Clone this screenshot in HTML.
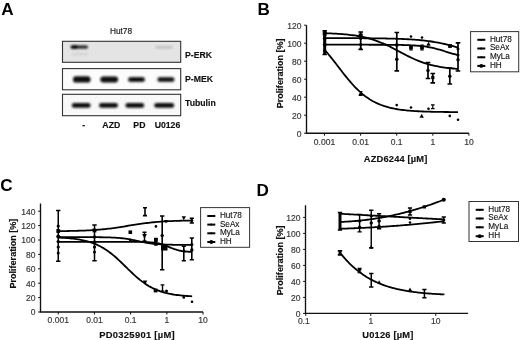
<!DOCTYPE html><html><head><meta charset="utf-8"><style>html,body{margin:0;padding:0;background:#fff;width:520px;height:340px;overflow:hidden}svg{display:block;will-change:transform}</style></head><body>
<svg width="520" height="340" viewBox="0 0 520 340" font-family='"Liberation Sans", sans-serif'>
<defs><filter id="bl" filterUnits="userSpaceOnUse" x="0" y="0" width="520" height="340"><feGaussianBlur stdDeviation="0.8"/></filter><filter id="bl2" filterUnits="userSpaceOnUse" x="0" y="0" width="520" height="340"><feGaussianBlur stdDeviation="1.2"/></filter><filter id="bl3" filterUnits="userSpaceOnUse" x="0" y="0" width="520" height="340"><feGaussianBlur stdDeviation="0.35"/></filter></defs>
<g font-weight="bold" font-size="17.1" fill="#000"><text x="1.2" y="14.9">A</text><text x="257.6" y="14.7">B</text><text x="0.3" y="191.4">C</text><text x="256.6" y="195.6">D</text></g>
<text x="121" y="33.7" font-size="8.3" fill="#222" stroke="#222" stroke-width="0.2" text-anchor="middle">Hut78</text>
<rect x="62.5" y="41.3" width="118.2" height="21" fill="#e4e4e4" stroke="#333" stroke-width="1.1"/>
<g filter="url(#bl)"><rect x="70.5" y="45.6" width="17.5" height="3" rx="1.5" fill="#1a1a1a"/><rect x="71" y="45.2" width="7" height="3.6" rx="1.8" fill="#000"/><rect x="72" y="53.2" width="16" height="1.8" fill="#cfcfcf"/><rect x="155.5" y="46" width="17" height="2.6" rx="1.3" fill="#bdbdbd"/></g>
<rect x="62.5" y="68.6" width="118.2" height="21.2" fill="#fcfcfc" stroke="#333" stroke-width="1.1"/>
<g filter="url(#bl)" fill="#0a0a0a"><rect x="73" y="76.2" width="17.5" height="6.4" rx="3.2"/><rect x="100.3" y="76.4" width="17.8" height="6" rx="3"/><rect x="128" y="77" width="17" height="5" rx="2.5" fill="#2a2a2a"/><rect x="129.5" y="77.8" width="14" height="3.4" rx="1.7" fill="#111"/><rect x="157.3" y="77" width="17.2" height="5" rx="2.5" fill="#333"/><rect x="159" y="77.8" width="14" height="3.4" rx="1.7" fill="#181818"/></g>
<rect x="62.5" y="94.3" width="118.2" height="21.4" fill="#f8f8f8" stroke="#333" stroke-width="1.1"/>
<g filter="url(#bl)" fill="#111"><rect x="71.8" y="103" width="18.8" height="4.8" rx="2.4"/><rect x="99" y="103" width="19" height="4.8" rx="2.4"/><rect x="125.4" y="103" width="18.8" height="4.8" rx="2.4"/><rect x="154.2" y="103" width="20" height="4.8" rx="2.4"/></g>
<g font-weight="bold" font-size="8.7" fill="#111" stroke="#111" stroke-width="0.15"><text x="185" y="58">P-ERK</text><text x="185" y="81.9">P-MEK</text><text x="185" y="105.7">Tubulin</text><text x="83.7" y="127.6" text-anchor="middle">-</text><text x="111.3" y="127.6" text-anchor="middle">AZD</text><text x="139.4" y="127.6" text-anchor="middle">PD</text><text x="167.5" y="127.6" text-anchor="middle">U0126</text></g>
<path d="M306.5,25.3 V133.2 H468.9" fill="none" stroke="#111" stroke-width="1.35"/>
<path d="M304.1,133.20 H306.5" stroke="#111" stroke-width="1"/>
<path d="M304.1,115.20 H306.5" stroke="#111" stroke-width="1"/>
<path d="M304.1,97.20 H306.5" stroke="#111" stroke-width="1"/>
<path d="M304.1,79.20 H306.5" stroke="#111" stroke-width="1"/>
<path d="M304.1,61.20 H306.5" stroke="#111" stroke-width="1"/>
<path d="M304.1,43.20 H306.5" stroke="#111" stroke-width="1"/>
<path d="M304.1,25.20 H306.5" stroke="#111" stroke-width="1"/>
<path d="M324.50,133.2 V135.7" stroke="#111" stroke-width="1"/>
<path d="M360.60,133.2 V135.7" stroke="#111" stroke-width="1"/>
<path d="M396.70,133.2 V135.7" stroke="#111" stroke-width="1"/>
<path d="M432.80,133.2 V135.7" stroke="#111" stroke-width="1"/>
<path d="M468.90,133.2 V135.7" stroke="#111" stroke-width="1"/>
<g font-size="8.5" fill="#383838" stroke="#383838" stroke-width="0.18"><text x="301.50" y="136.55" text-anchor="end">0</text>
<text x="301.50" y="118.55" text-anchor="end">20</text>
<text x="301.50" y="100.55" text-anchor="end">40</text>
<text x="301.50" y="82.55" text-anchor="end">60</text>
<text x="301.50" y="64.55" text-anchor="end">80</text>
<text x="301.50" y="46.55" text-anchor="end">100</text>
<text x="301.50" y="28.55" text-anchor="end">120</text><text x="324.50" y="144.50" text-anchor="middle">0.001</text>
<text x="360.60" y="144.50" text-anchor="middle">0.01</text>
<text x="396.70" y="144.50" text-anchor="middle">0.1</text>
<text x="432.80" y="144.50" text-anchor="middle">1</text>
<text x="468.90" y="144.50" text-anchor="middle">10</text></g>
<text x="395.7" y="161.6" font-size="9.3" letter-spacing="0.17" font-weight="bold" text-anchor="middle" fill="#111" stroke="#111" stroke-width="0.15">AZD6244 [µM]</text>
<text transform="translate(282.9,73.3) rotate(-90)" font-size="9.05" font-weight="bold" text-anchor="middle" fill="#111" stroke="#111" stroke-width="0.15">Proliferation [%]</text>
<g fill="none" stroke="#000" stroke-width="1.8">
<path d="M324.50,49.65 L326.17,51.56 L327.84,53.54 L329.51,55.57 L331.18,57.64 L332.85,59.75 L334.51,61.90 L336.18,64.06 L337.85,66.23 L339.52,68.41 L341.19,70.57 L342.86,72.72 L344.53,74.84 L346.20,76.92 L347.87,78.96 L349.54,80.95 L351.21,82.87 L352.88,84.73 L354.54,86.53 L356.21,88.25 L357.88,89.89 L359.55,91.45 L361.22,92.94 L362.89,94.35 L364.56,95.67 L366.23,96.92 L367.90,98.09 L369.57,99.19 L371.24,100.22 L372.91,101.17 L374.57,102.06 L376.24,102.89 L377.91,103.65 L379.58,104.36 L381.25,105.02 L382.92,105.62 L384.59,106.18 L386.26,106.69 L387.93,107.16 L389.60,107.60 L391.27,108.00 L392.94,108.36 L394.60,108.70 L396.27,109.00 L397.94,109.28 L399.61,109.54 L401.28,109.77 L402.95,109.99 L404.62,110.18 L406.29,110.36 L407.96,110.53 L409.63,110.68 L411.30,110.81 L412.97,110.94 L414.63,111.05 L416.30,111.15 L417.97,111.25 L419.64,111.33 L421.31,111.41 L422.98,111.48 L424.65,111.54 L426.32,111.60 L427.99,111.66 L429.66,111.71 L431.33,111.75 L433.00,111.79 L434.66,111.83 L436.33,111.86 L438.00,111.89 L439.67,111.92 L441.34,111.94 L443.01,111.97 L444.68,111.99 L446.35,112.01 L448.02,112.02 L449.69,112.04 L451.36,112.05 L453.03,112.07 L454.69,112.08 L456.36,112.09 L458.03,112.10"/>
<path d="M324.50,33.22 L326.17,33.27 L327.84,33.33 L329.51,33.39 L331.18,33.46 L332.85,33.54 L334.51,33.62 L336.18,33.71 L337.85,33.81 L339.52,33.92 L341.19,34.04 L342.86,34.17 L344.53,34.31 L346.20,34.47 L347.87,34.64 L349.54,34.82 L351.21,35.02 L352.88,35.24 L354.54,35.47 L356.21,35.73 L357.88,36.01 L359.55,36.30 L361.22,36.63 L362.89,36.97 L364.56,37.35 L366.23,37.75 L367.90,38.18 L369.57,38.64 L371.24,39.13 L372.91,39.65 L374.57,40.20 L376.24,40.78 L377.91,41.40 L379.58,42.05 L381.25,42.73 L382.92,43.44 L384.59,44.18 L386.26,44.95 L387.93,45.74 L389.60,46.56 L391.27,47.40 L392.94,48.25 L394.60,49.12 L396.27,49.99 L397.94,50.88 L399.61,51.76 L401.28,52.65 L402.95,53.53 L404.62,54.40 L406.29,55.26 L407.96,56.10 L409.63,56.92 L411.30,57.72 L412.97,58.50 L414.63,59.24 L416.30,59.96 L417.97,60.65 L419.64,61.31 L421.31,61.93 L422.98,62.53 L424.65,63.09 L426.32,63.62 L427.99,64.12 L429.66,64.58 L431.33,65.02 L433.00,65.43 L434.66,65.81 L436.33,66.16 L438.00,66.49 L439.67,66.80 L441.34,67.08 L443.01,67.34 L444.68,67.58 L446.35,67.80 L448.02,68.01 L449.69,68.19 L451.36,68.37 L453.03,68.52 L454.69,68.67 L456.36,68.80 L458.03,68.93"/>
<path d="M324.50,38.11 L326.17,38.11 L327.84,38.11 L329.51,38.11 L331.18,38.12 L332.85,38.12 L334.51,38.12 L336.18,38.12 L337.85,38.13 L339.52,38.13 L341.19,38.13 L342.86,38.14 L344.53,38.14 L346.20,38.15 L347.87,38.15 L349.54,38.16 L351.21,38.16 L352.88,38.17 L354.54,38.18 L356.21,38.18 L357.88,38.19 L359.55,38.20 L361.22,38.21 L362.89,38.22 L364.56,38.23 L366.23,38.24 L367.90,38.26 L369.57,38.27 L371.24,38.29 L372.91,38.30 L374.57,38.32 L376.24,38.34 L377.91,38.36 L379.58,38.39 L381.25,38.41 L382.92,38.44 L384.59,38.47 L386.26,38.50 L387.93,38.54 L389.60,38.57 L391.27,38.62 L392.94,38.66 L394.60,38.71 L396.27,38.76 L397.94,38.82 L399.61,38.88 L401.28,38.94 L402.95,39.01 L404.62,39.09 L406.29,39.17 L407.96,39.26 L409.63,39.36 L411.30,39.46 L412.97,39.58 L414.63,39.70 L416.30,39.83 L417.97,39.96 L419.64,40.11 L421.31,40.27 L422.98,40.45 L424.65,40.63 L426.32,40.83 L427.99,41.04 L429.66,41.26 L431.33,41.50 L433.00,41.75 L434.66,42.02 L436.33,42.31 L438.00,42.61 L439.67,42.93 L441.34,43.27 L443.01,43.63 L444.68,44.00 L446.35,44.39 L448.02,44.80 L449.69,45.22 L451.36,45.67 L453.03,46.13 L454.69,46.60 L456.36,47.09 L458.03,47.59"/>
<path d="M324.50,44.71 L326.17,44.71 L327.84,44.71 L329.51,44.71 L331.18,44.71 L332.85,44.71 L334.51,44.71 L336.18,44.71 L337.85,44.71 L339.52,44.71 L341.19,44.71 L342.86,44.71 L344.53,44.71 L346.20,44.71 L347.87,44.71 L349.54,44.71 L351.21,44.71 L352.88,44.71 L354.54,44.72 L356.21,44.72 L357.88,44.72 L359.55,44.72 L361.22,44.72 L362.89,44.72 L364.56,44.72 L366.23,44.72 L367.90,44.72 L369.57,44.73 L371.24,44.73 L372.91,44.73 L374.57,44.73 L376.24,44.74 L377.91,44.74 L379.58,44.75 L381.25,44.75 L382.92,44.76 L384.59,44.76 L386.26,44.77 L387.93,44.78 L389.60,44.79 L391.27,44.81 L392.94,44.82 L394.60,44.84 L396.27,44.86 L397.94,44.89 L399.61,44.92 L401.28,44.95 L402.95,44.99 L404.62,45.03 L406.29,45.08 L407.96,45.14 L409.63,45.21 L411.30,45.29 L412.97,45.37 L414.63,45.48 L416.30,45.60 L417.97,45.73 L419.64,45.88 L421.31,46.05 L422.98,46.25 L424.65,46.47 L426.32,46.72 L427.99,46.99 L429.66,47.29 L431.33,47.63 L433.00,47.99 L434.66,48.39 L436.33,48.81 L438.00,49.26 L439.67,49.73 L441.34,50.22 L443.01,50.73 L444.68,51.25 L446.35,51.77 L448.02,52.29 L449.69,52.80 L451.36,53.30 L453.03,53.77 L454.69,54.23 L456.36,54.66 L458.03,55.06"/>
</g>
<path d="M324.70,30.80 V54.50 M322.50,30.80 H326.90 M322.50,54.50 H326.90" stroke="#000" stroke-width="1.6" fill="none"/>
<rect x="323.2" y="31" width="3" height="23" fill="#000"/>
<rect x="322.70" y="31.50" width="4.00" height="4.00" fill="#000"/>
<circle cx="324.70" cy="38.50" r="1.90" fill="#000"/>
<circle cx="324.70" cy="44.50" r="1.90" fill="#000"/>
<path d="M324.70,48.08 L326.62,51.60 L322.78,51.60Z" fill="#000"/>
<path d="M360.70,32.00 V49.50 M358.40,32.00 H363.00 M358.40,49.50 H363.00" stroke="#000" stroke-width="1.7" fill="none"/>
<rect x="358.70" y="33.50" width="4.00" height="4.00" fill="#000"/>
<circle cx="360.70" cy="38.50" r="1.60" fill="#000"/>
<circle cx="360.70" cy="44.50" r="1.60" fill="#000"/>
<path d="M360.70,46.08 L362.62,49.60 L358.78,49.60Z" fill="#000"/>
<path d="M360.70,91.10 L363.10,95.50 L358.30,95.50Z" fill="#000"/>
<path d="M360.70,91.50 V95.50 M358.95,91.50 H362.45 M358.95,95.50 H362.45" stroke="#000" stroke-width="1.2" fill="none"/>
<path d="M396.80,32.50 V70.80 M394.50,32.50 H399.10 M394.50,70.80 H399.10" stroke="#000" stroke-width="1.7" fill="none"/>
<circle cx="396.80" cy="59.20" r="1.80" fill="#000"/>
<rect x="395.30" y="43.50" width="3.00" height="3.00" fill="#000"/>
<circle cx="396.70" cy="105.10" r="1.3" fill="#000"/>
<rect x="409.10" y="45.60" width="3.80" height="3.80" fill="#000"/>
<path d="M411.00,45.50 V50.00 M409.30,45.50 H412.70 M409.30,50.00 H412.70" stroke="#000" stroke-width="1.2" fill="none"/>
<circle cx="411.00" cy="36.50" r="1.3" fill="#000"/>
<circle cx="411.00" cy="107.50" r="1.3" fill="#000"/>
<rect x="420.10" y="45.60" width="3.80" height="3.80" fill="#000"/>
<path d="M422.00,45.00 V50.00 M420.30,45.00 H423.70 M420.30,50.00 H423.70" stroke="#000" stroke-width="1.2" fill="none"/>
<circle cx="422.00" cy="37.50" r="1.3" fill="#000"/>
<path d="M421.70,113.84 L423.86,117.80 L419.54,117.80Z" fill="#000"/>
<path d="M428.00,62.50 V78.50 M425.70,62.50 H430.30 M425.70,78.50 H430.30" stroke="#000" stroke-width="1.7" fill="none"/>
<circle cx="428.00" cy="70.50" r="1.70" fill="#000"/>
<path d="M428.50,41.84 L430.66,45.80 L426.34,45.80Z" fill="#000"/>
<circle cx="428.50" cy="108.70" r="1.3" fill="#000"/>
<path d="M432.80,73.50 V82.80 M430.50,73.50 H435.10 M430.50,82.80 H435.10" stroke="#000" stroke-width="1.7" fill="none"/>
<rect x="431.20" y="75.90" width="3.20" height="3.20" fill="#000"/>
<path d="M432.80,104.80 V108.70 M431.00,104.80 H434.60 M431.00,108.70 H434.60" stroke="#000" stroke-width="1.2" fill="none"/>
<path d="M449.80,68.00 V84.00 M447.50,68.00 H452.10 M447.50,84.00 H452.10" stroke="#000" stroke-width="1.7" fill="none"/>
<circle cx="449.80" cy="76.20" r="1.70" fill="#000"/>
<rect x="448.10" y="44.10" width="3.80" height="3.80" fill="#000"/>
<circle cx="449.80" cy="115.90" r="1.3" fill="#000"/>
<path d="M458.00,42.80 V71.00 M455.70,42.80 H460.30 M455.70,71.00 H460.30" stroke="#000" stroke-width="1.7" fill="none"/>
<circle cx="458.00" cy="49.00" r="1.50" fill="#000"/>
<circle cx="458.00" cy="55.00" r="1.50" fill="#000"/>
<circle cx="458.00" cy="59.80" r="1.70" fill="#000"/>
<circle cx="458.00" cy="119.80" r="1.3" fill="#000"/>
<rect x="470.6" y="31.6" width="48.1" height="40.2" fill="none" stroke="#333" stroke-width="1"/>
<path d="M477.3,39.8 H485.3" stroke="#000" stroke-width="2"/>
<path d="M481.30,38.72 L482.38,40.70 L480.22,40.70Z" fill="#000"/>
<text x="489.90000000000003" y="41.699999999999996" font-size="8.2" fill="#111" stroke="#111" stroke-width="0.12">Hut78</text>
<path d="M477.3,48.5 H485.3" stroke="#000" stroke-width="2"/>
<rect x="480.40" y="47.60" width="1.80" height="1.80" fill="#000"/>
<text x="489.90000000000003" y="50.4" font-size="8.2" fill="#111" stroke="#111" stroke-width="0.12">SeAx</text>
<path d="M477.3,57.3 H485.3" stroke="#000" stroke-width="2"/>
<path d="M481.30,58.38 L482.38,56.40 L480.22,56.40Z" fill="#000"/>
<text x="489.90000000000003" y="59.199999999999996" font-size="8.2" fill="#111" stroke="#111" stroke-width="0.12">MyLa</text>
<path d="M477.3,65.9 H485.3" stroke="#000" stroke-width="2"/>
<circle cx="481.30" cy="65.90" r="1.90" fill="#000"/>
<text x="489.90000000000003" y="67.80000000000001" font-size="8.2" fill="#111" stroke="#111" stroke-width="0.12">HH</text>
<path d="M40.5,203.5 V312 H203.05" fill="none" stroke="#111" stroke-width="1.35"/>
<path d="M38.1,312.00 H40.5" stroke="#111" stroke-width="1"/>
<path d="M38.1,297.60 H40.5" stroke="#111" stroke-width="1"/>
<path d="M38.1,283.20 H40.5" stroke="#111" stroke-width="1"/>
<path d="M38.1,268.80 H40.5" stroke="#111" stroke-width="1"/>
<path d="M38.1,254.40 H40.5" stroke="#111" stroke-width="1"/>
<path d="M38.1,240.00 H40.5" stroke="#111" stroke-width="1"/>
<path d="M38.1,225.60 H40.5" stroke="#111" stroke-width="1"/>
<path d="M38.1,211.20 H40.5" stroke="#111" stroke-width="1"/>
<path d="M58.25,312 V314.5" stroke="#111" stroke-width="1"/>
<path d="M94.45,312 V314.5" stroke="#111" stroke-width="1"/>
<path d="M130.65,312 V314.5" stroke="#111" stroke-width="1"/>
<path d="M166.85,312 V314.5" stroke="#111" stroke-width="1"/>
<path d="M203.05,312 V314.5" stroke="#111" stroke-width="1"/>
<g font-size="8.5" fill="#383838" stroke="#383838" stroke-width="0.18"><text x="35.50" y="315.35" text-anchor="end">0</text>
<text x="35.50" y="300.95" text-anchor="end">20</text>
<text x="35.50" y="286.55" text-anchor="end">40</text>
<text x="35.50" y="272.15" text-anchor="end">60</text>
<text x="35.50" y="257.75" text-anchor="end">80</text>
<text x="35.50" y="243.35" text-anchor="end">100</text>
<text x="35.50" y="228.95" text-anchor="end">120</text>
<text x="35.50" y="214.55" text-anchor="end">140</text><text x="58.25" y="322.80" text-anchor="middle">0.001</text>
<text x="94.45" y="322.80" text-anchor="middle">0.01</text>
<text x="130.65" y="322.80" text-anchor="middle">0.1</text>
<text x="166.85" y="322.80" text-anchor="middle">1</text>
<text x="203.05" y="322.80" text-anchor="middle">10</text></g>
<text x="137.1" y="338" font-size="9.4" letter-spacing="0.3" font-weight="bold" text-anchor="middle" fill="#111" stroke="#111" stroke-width="0.15">PD0325901 [µM]</text>
<text transform="translate(15.7,253.6) rotate(-90)" font-size="9.05" font-weight="bold" text-anchor="middle" fill="#111" stroke="#111" stroke-width="0.15">Proliferation [%]</text>
<g fill="none" stroke="#000" stroke-width="1.8">
<path d="M58.25,237.57 L59.92,237.65 L61.60,237.74 L63.27,237.84 L64.95,237.95 L66.62,238.08 L68.29,238.22 L69.97,238.37 L71.64,238.54 L73.31,238.73 L74.99,238.94 L76.66,239.18 L78.34,239.43 L80.01,239.72 L81.68,240.03 L83.36,240.38 L85.03,240.76 L86.70,241.18 L88.38,241.64 L90.05,242.14 L91.73,242.69 L93.40,243.29 L95.07,243.95 L96.75,244.66 L98.42,245.44 L100.09,246.27 L101.77,247.17 L103.44,248.14 L105.12,249.18 L106.79,250.28 L108.46,251.45 L110.14,252.69 L111.81,254.00 L113.48,255.37 L115.16,256.80 L116.83,258.28 L118.51,259.81 L120.18,261.38 L121.85,262.98 L123.53,264.61 L125.20,266.25 L126.88,267.89 L128.55,269.53 L130.22,271.15 L131.90,272.75 L133.57,274.31 L135.24,275.84 L136.92,277.31 L138.59,278.73 L140.27,280.10 L141.94,281.40 L143.61,282.63 L145.29,283.79 L146.96,284.89 L148.63,285.92 L150.31,286.87 L151.98,287.77 L153.66,288.59 L155.33,289.36 L157.00,290.07 L158.68,290.71 L160.35,291.31 L162.02,291.85 L163.70,292.35 L165.37,292.81 L167.05,293.22 L168.72,293.60 L170.39,293.94 L172.07,294.25 L173.74,294.53 L175.41,294.78 L177.09,295.01 L178.76,295.22 L180.44,295.41 L182.11,295.58 L183.78,295.73 L185.46,295.87 L187.13,295.99 L188.81,296.10 L190.48,296.20 L192.15,296.29"/>
<path d="M58.25,237.11 L59.92,237.11 L61.60,237.11 L63.27,237.11 L64.95,237.11 L66.62,237.11 L68.29,237.11 L69.97,237.11 L71.64,237.11 L73.31,237.11 L74.99,237.11 L76.66,237.11 L78.34,237.12 L80.01,237.12 L81.68,237.12 L83.36,237.13 L85.03,237.13 L86.70,237.13 L88.38,237.14 L90.05,237.15 L91.73,237.15 L93.40,237.16 L95.07,237.18 L96.75,237.19 L98.42,237.21 L100.09,237.23 L101.77,237.25 L103.44,237.28 L105.12,237.31 L106.79,237.36 L108.46,237.40 L110.14,237.46 L111.81,237.53 L113.48,237.61 L115.16,237.70 L116.83,237.81 L118.51,237.94 L120.18,238.09 L121.85,238.26 L123.53,238.45 L125.20,238.67 L126.88,238.91 L128.55,239.18 L130.22,239.47 L131.90,239.79 L133.57,240.12 L135.24,240.47 L136.92,240.82 L138.59,241.18 L140.27,241.54 L141.94,241.89 L143.61,242.22 L145.29,242.54 L146.96,242.83 L148.63,243.10 L150.31,243.35 L151.98,243.57 L153.66,243.76 L155.33,243.93 L157.00,244.08 L158.68,244.21 L160.35,244.32 L162.02,244.42 L163.70,244.50 L165.37,244.57 L167.05,244.63 L168.72,244.68 L170.39,244.72 L172.07,244.75 L173.74,244.78 L175.41,244.81 L177.09,244.83 L178.76,244.85 L180.44,244.86 L182.11,244.87 L183.78,244.88 L185.46,244.89 L187.13,244.90 L188.81,244.90 L190.48,244.91 L192.15,244.91"/>
<path d="M58.25,241.78 L59.92,241.78 L61.60,241.78 L63.27,241.78 L64.95,241.78 L66.62,241.78 L68.29,241.78 L69.97,241.78 L71.64,241.78 L73.31,241.78 L74.99,241.78 L76.66,241.78 L78.34,241.78 L80.01,241.78 L81.68,241.78 L83.36,241.78 L85.03,241.78 L86.70,241.78 L88.38,241.78 L90.05,241.78 L91.73,241.78 L93.40,241.78 L95.07,241.78 L96.75,241.78 L98.42,241.78 L100.09,241.78 L101.77,241.78 L103.44,241.78 L105.12,241.78 L106.79,241.78 L108.46,241.78 L110.14,241.78 L111.81,241.78 L113.48,241.78 L115.16,241.78 L116.83,241.78 L118.51,241.78 L120.18,241.78 L121.85,241.78 L123.53,241.79 L125.20,241.79 L126.88,241.79 L128.55,241.80 L130.22,241.80 L131.90,241.81 L133.57,241.82 L135.24,241.83 L136.92,241.84 L138.59,241.86 L140.27,241.89 L141.94,241.92 L143.61,241.96 L145.29,242.02 L146.96,242.09 L148.63,242.18 L150.31,242.30 L151.98,242.44 L153.66,242.63 L155.33,242.86 L157.00,243.14 L158.68,243.49 L160.35,243.90 L162.02,244.39 L163.70,244.94 L165.37,245.55 L167.05,246.21 L168.72,246.90 L170.39,247.59 L172.07,248.25 L173.74,248.88 L175.41,249.45 L177.09,249.95 L178.76,250.39 L180.44,250.75 L182.11,251.05 L183.78,251.30 L185.46,251.49 L187.13,251.65 L188.81,251.77 L190.48,251.87 L192.15,251.95"/>
<path d="M58.25,231.13 L59.92,231.12 L61.60,231.10 L63.27,231.08 L64.95,231.06 L66.62,231.03 L68.29,231.00 L69.97,230.97 L71.64,230.94 L73.31,230.90 L74.99,230.86 L76.66,230.82 L78.34,230.77 L80.01,230.72 L81.68,230.66 L83.36,230.60 L85.03,230.53 L86.70,230.46 L88.38,230.37 L90.05,230.29 L91.73,230.19 L93.40,230.09 L95.07,229.97 L96.75,229.85 L98.42,229.72 L100.09,229.58 L101.77,229.43 L103.44,229.27 L105.12,229.10 L106.79,228.91 L108.46,228.72 L110.14,228.52 L111.81,228.30 L113.48,228.08 L115.16,227.84 L116.83,227.60 L118.51,227.35 L120.18,227.09 L121.85,226.83 L123.53,226.56 L125.20,226.29 L126.88,226.01 L128.55,225.73 L130.22,225.46 L131.90,225.18 L133.57,224.91 L135.24,224.65 L136.92,224.38 L138.59,224.13 L140.27,223.88 L141.94,223.64 L143.61,223.41 L145.29,223.20 L146.96,222.99 L148.63,222.79 L150.31,222.60 L151.98,222.42 L153.66,222.26 L155.33,222.10 L157.00,221.95 L158.68,221.82 L160.35,221.69 L162.02,221.57 L163.70,221.47 L165.37,221.37 L167.05,221.27 L168.72,221.19 L170.39,221.11 L172.07,221.04 L173.74,220.97 L175.41,220.91 L177.09,220.86 L178.76,220.81 L180.44,220.76 L182.11,220.72 L183.78,220.68 L185.46,220.65 L187.13,220.62 L188.81,220.59 L190.48,220.56 L192.15,220.54"/>
</g>
<path d="M58.25,210.50 V261.25 M56.05,210.50 H60.45 M56.05,261.25 H60.45" stroke="#000" stroke-width="1.5" fill="none"/>
<circle cx="58.25" cy="226.00" r="1.60" fill="#000"/>
<rect x="56.35" y="229.10" width="3.80" height="3.80" fill="#000"/>
<circle cx="58.25" cy="236.50" r="2.00" fill="#000"/>
<circle cx="58.25" cy="241.60" r="1.70" fill="#000"/>
<circle cx="58.25" cy="247.00" r="1.60" fill="#000"/>
<circle cx="58.25" cy="253.00" r="1.50" fill="#000"/>
<path d="M94.50,225.00 V260.75 M92.30,225.00 H96.70 M92.30,260.75 H96.70" stroke="#000" stroke-width="1.5" fill="none"/>
<rect x="92.60" y="228.60" width="3.80" height="3.80" fill="#000"/>
<circle cx="94.50" cy="237.00" r="1.70" fill="#000"/>
<circle cx="94.50" cy="242.00" r="1.70" fill="#000"/>
<circle cx="94.50" cy="247.00" r="1.60" fill="#000"/>
<circle cx="94.50" cy="252.00" r="1.50" fill="#000"/>
<rect x="128.50" y="230.40" width="3.60" height="3.60" fill="#000"/>
<circle cx="130.30" cy="240.00" r="1.50" fill="#000"/>
<path d="M145.00,207.75 V215.60 M143.00,207.75 H147.00 M143.00,215.60 H147.00" stroke="#000" stroke-width="1.6" fill="none"/>
<path d="M144.50,232.20 V241.00 M142.50,232.20 H146.50 M142.50,241.00 H146.50" stroke="#000" stroke-width="1.5" fill="none"/>
<path d="M144.50,238.40 L146.90,234.00 L142.10,234.00Z" fill="#000"/>
<path d="M145.00,284.68 L147.28,280.50 L142.72,280.50Z" fill="#000"/>
<circle cx="155.90" cy="226.40" r="1.3" fill="#000"/>
<path d="M155.90,238.50 V245.00 M154.10,238.50 H157.70 M154.10,245.00 H157.70" stroke="#000" stroke-width="1.4" fill="none"/>
<rect x="154.00" y="238.10" width="3.80" height="3.80" fill="#000"/>
<rect x="153.70" y="288.60" width="3.80" height="3.80" fill="#000"/>
<path d="M162.20,216.00 V269.75 M160.00,216.00 H164.40 M160.00,269.75 H164.40" stroke="#000" stroke-width="1.6" fill="none"/>
<circle cx="162.20" cy="235.60" r="1.70" fill="#000"/>
<rect x="161" y="245.5" width="6.5" height="5" fill="#000"/>
<path d="M162.50,284.90 V291.10 M160.60,284.90 H164.40 M160.60,291.10 H164.40" stroke="#000" stroke-width="1.4" fill="none"/>
<path d="M166.00,223.52 L167.92,220.00 L164.08,220.00Z" fill="#000"/>
<circle cx="166.50" cy="291.10" r="1.50" fill="#000"/>
<path d="M183.80,220.26 L185.96,216.30 L181.64,216.30Z" fill="#000"/>
<path d="M183.80,246.30 V260.70 M181.70,246.30 H185.90 M181.70,260.70 H185.90" stroke="#000" stroke-width="1.6" fill="none"/>
<circle cx="183.80" cy="251.00" r="1.40" fill="#000"/>
<circle cx="183.75" cy="297.40" r="1.3" fill="#000"/>
<path d="M191.80,218.30 V223.00 M189.70,218.30 H193.90 M189.70,223.00 H193.90" stroke="#000" stroke-width="1.6" fill="none"/>
<circle cx="191.80" cy="220.60" r="1.50" fill="#000"/>
<path d="M191.80,238.00 V259.70 M189.70,238.00 H193.90 M189.70,259.70 H193.90" stroke="#000" stroke-width="1.6" fill="none"/>
<circle cx="191.80" cy="244.50" r="1.60" fill="#000"/>
<circle cx="191.80" cy="250.00" r="1.70" fill="#000"/>
<circle cx="192.00" cy="301.75" r="1.3" fill="#000"/>
<rect x="200.6" y="207.6" width="49" height="39.7" fill="none" stroke="#333" stroke-width="1"/>
<path d="M207.29999999999998,216 H215.29999999999998" stroke="#000" stroke-width="2"/>
<path d="M211.30,214.92 L212.38,216.90 L210.22,216.90Z" fill="#000"/>
<text x="219.9" y="217.9" font-size="8.2" fill="#111" stroke="#111" stroke-width="0.12">Hut78</text>
<path d="M207.29999999999998,224.6 H215.29999999999998" stroke="#000" stroke-width="2"/>
<rect x="210.40" y="223.70" width="1.80" height="1.80" fill="#000"/>
<text x="219.9" y="226.5" font-size="8.2" fill="#111" stroke="#111" stroke-width="0.12">SeAx</text>
<path d="M207.29999999999998,233.3 H215.29999999999998" stroke="#000" stroke-width="2"/>
<path d="M211.30,234.38 L212.38,232.40 L210.22,232.40Z" fill="#000"/>
<text x="219.9" y="235.20000000000002" font-size="8.2" fill="#111" stroke="#111" stroke-width="0.12">MyLa</text>
<path d="M207.29999999999998,242 H215.29999999999998" stroke="#000" stroke-width="2"/>
<circle cx="211.30" cy="242.00" r="1.90" fill="#000"/>
<text x="219.9" y="243.9" font-size="8.2" fill="#111" stroke="#111" stroke-width="0.12">HH</text>
<path d="M305.5,205.3 V313.4 H468.1" fill="none" stroke="#111" stroke-width="1.35"/>
<path d="M303.1,313.40 H305.5" stroke="#111" stroke-width="1"/>
<path d="M303.1,297.40 H305.5" stroke="#111" stroke-width="1"/>
<path d="M303.1,281.40 H305.5" stroke="#111" stroke-width="1"/>
<path d="M303.1,265.40 H305.5" stroke="#111" stroke-width="1"/>
<path d="M303.1,249.40 H305.5" stroke="#111" stroke-width="1"/>
<path d="M303.1,233.40 H305.5" stroke="#111" stroke-width="1"/>
<path d="M303.1,217.40 H305.5" stroke="#111" stroke-width="1"/>
<path d="M305.75,313.4 V315.9" stroke="#111" stroke-width="1"/>
<path d="M370.75,313.4 V315.9" stroke="#111" stroke-width="1"/>
<path d="M435.75,313.4 V315.9" stroke="#111" stroke-width="1"/>
<g font-size="8.5" fill="#383838" stroke="#383838" stroke-width="0.18"><text x="300.50" y="316.75" text-anchor="end">0</text>
<text x="300.50" y="300.75" text-anchor="end">20</text>
<text x="300.50" y="284.75" text-anchor="end">40</text>
<text x="300.50" y="268.75" text-anchor="end">60</text>
<text x="300.50" y="252.75" text-anchor="end">80</text>
<text x="300.50" y="236.75" text-anchor="end">100</text>
<text x="300.50" y="220.75" text-anchor="end">120</text><text x="303.80" y="323.90" text-anchor="middle">0.1</text>
<text x="370.75" y="323.90" text-anchor="middle">1</text>
<text x="435.75" y="323.90" text-anchor="middle">10</text></g>
<text x="387.9" y="337.6" font-size="9.3" letter-spacing="0.2" font-weight="bold" text-anchor="middle" fill="#111" stroke="#111" stroke-width="0.15">U0126 [µM]</text>
<text transform="translate(282.6,260.3) rotate(-90)" font-size="9.05" font-weight="bold" text-anchor="middle" fill="#111" stroke="#111" stroke-width="0.15">Proliferation [%]</text>
<g fill="none" stroke="#000" stroke-width="1.8">
<path d="M340.00,213.75 L341.30,213.82 L342.59,213.89 L343.89,213.97 L345.19,214.04 L346.48,214.11 L347.78,214.18 L349.08,214.25 L350.38,214.32 L351.67,214.40 L352.97,214.47 L354.27,214.54 L355.56,214.61 L356.86,214.68 L358.16,214.75 L359.45,214.83 L360.75,214.90 L362.05,214.97 L363.34,215.04 L364.64,215.11 L365.94,215.18 L367.23,215.25 L368.53,215.32 L369.83,215.40 L371.12,215.47 L372.42,215.54 L373.72,215.61 L375.02,215.68 L376.31,215.75 L377.61,215.82 L378.91,215.89 L380.20,215.96 L381.50,216.04 L382.80,216.11 L384.09,216.18 L385.39,216.25 L386.69,216.32 L387.98,216.39 L389.28,216.46 L390.58,216.53 L391.88,216.60 L393.17,216.67 L394.47,216.74 L395.77,216.81 L397.06,216.88 L398.36,216.95 L399.66,217.02 L400.95,217.10 L402.25,217.17 L403.55,217.24 L404.84,217.31 L406.14,217.38 L407.44,217.45 L408.73,217.52 L410.03,217.59 L411.33,217.66 L412.62,217.73 L413.92,217.80 L415.22,217.87 L416.52,217.94 L417.81,218.01 L419.11,218.08 L420.41,218.15 L421.70,218.22 L423.00,218.29 L424.30,218.36 L425.59,218.43 L426.89,218.50 L428.19,218.57 L429.48,218.64 L430.78,218.71 L432.08,218.77 L433.38,218.84 L434.67,218.91 L435.97,218.98 L437.27,219.05 L438.56,219.12 L439.86,219.19 L441.16,219.26 L442.45,219.33 L443.75,219.40"/>
<path d="M340.00,221.94 L341.30,221.89 L342.59,221.84 L343.89,221.79 L345.19,221.72 L346.48,221.65 L347.78,221.58 L349.08,221.50 L350.38,221.41 L351.67,221.32 L352.97,221.22 L354.27,221.12 L355.56,221.01 L356.86,220.89 L358.16,220.77 L359.45,220.64 L360.75,220.51 L362.05,220.37 L363.34,220.22 L364.64,220.07 L365.94,219.92 L367.23,219.75 L368.53,219.58 L369.83,219.41 L371.12,219.23 L372.42,219.04 L373.72,218.85 L375.02,218.65 L376.31,218.45 L377.61,218.24 L378.91,218.02 L380.20,217.80 L381.50,217.57 L382.80,217.34 L384.09,217.10 L385.39,216.85 L386.69,216.60 L387.98,216.34 L389.28,216.08 L390.58,215.81 L391.88,215.54 L393.17,215.26 L394.47,214.97 L395.77,214.68 L397.06,214.38 L398.36,214.08 L399.66,213.77 L400.95,213.45 L402.25,213.13 L403.55,212.80 L404.84,212.47 L406.14,212.13 L407.44,211.78 L408.73,211.43 L410.03,211.07 L411.33,210.71 L412.62,210.34 L413.92,209.97 L415.22,209.59 L416.52,209.20 L417.81,208.81 L419.11,208.41 L420.41,208.00 L421.70,207.59 L423.00,207.18 L424.30,206.76 L425.59,206.33 L426.89,205.89 L428.19,205.45 L429.48,205.01 L430.78,204.56 L432.08,204.10 L433.38,203.64 L434.67,203.17 L435.97,202.69 L437.27,202.21 L438.56,201.73 L439.86,201.23 L441.16,200.74 L442.45,200.23 L443.75,199.72"/>
<path d="M340.00,228.75 L341.30,228.71 L342.59,228.67 L343.89,228.63 L345.19,228.59 L346.48,228.54 L347.78,228.50 L349.08,228.45 L350.38,228.40 L351.67,228.35 L352.97,228.30 L354.27,228.25 L355.56,228.19 L356.86,228.14 L358.16,228.08 L359.45,228.02 L360.75,227.96 L362.05,227.90 L363.34,227.84 L364.64,227.78 L365.94,227.71 L367.23,227.65 L368.53,227.58 L369.83,227.51 L371.12,227.44 L372.42,227.37 L373.72,227.29 L375.02,227.22 L376.31,227.14 L377.61,227.06 L378.91,226.98 L380.20,226.90 L381.50,226.82 L382.80,226.74 L384.09,226.65 L385.39,226.57 L386.69,226.48 L387.98,226.39 L389.28,226.30 L390.58,226.21 L391.88,226.12 L393.17,226.02 L394.47,225.93 L395.77,225.83 L397.06,225.73 L398.36,225.63 L399.66,225.53 L400.95,225.43 L402.25,225.32 L403.55,225.22 L404.84,225.11 L406.14,225.00 L407.44,224.89 L408.73,224.78 L410.03,224.67 L411.33,224.55 L412.62,224.44 L413.92,224.32 L415.22,224.20 L416.52,224.08 L417.81,223.96 L419.11,223.84 L420.41,223.72 L421.70,223.59 L423.00,223.46 L424.30,223.34 L425.59,223.21 L426.89,223.08 L428.19,222.94 L429.48,222.81 L430.78,222.68 L432.08,222.54 L433.38,222.40 L434.67,222.26 L435.97,222.12 L437.27,221.98 L438.56,221.84 L439.86,221.69 L441.16,221.55 L442.45,221.40 L443.75,221.25"/>
<path d="M340.00,252.78 L341.31,254.39 L342.61,255.94 L343.92,257.45 L345.22,258.91 L346.52,260.33 L347.83,261.70 L349.13,263.03 L350.44,264.32 L351.75,265.56 L353.05,266.76 L354.36,267.91 L355.66,269.03 L356.96,270.11 L358.27,271.15 L359.57,272.16 L360.88,273.12 L362.19,274.05 L363.49,274.95 L364.80,275.81 L366.10,276.64 L367.40,277.44 L368.71,278.21 L370.01,278.95 L371.32,279.66 L372.62,280.34 L373.93,280.99 L375.24,281.62 L376.54,282.22 L377.84,282.80 L379.15,283.36 L380.45,283.89 L381.76,284.40 L383.06,284.89 L384.37,285.36 L385.68,285.81 L386.98,286.24 L388.28,286.66 L389.59,287.05 L390.89,287.43 L392.20,287.80 L393.50,288.14 L394.81,288.48 L396.12,288.80 L397.42,289.10 L398.72,289.39 L400.03,289.67 L401.33,289.94 L402.64,290.20 L403.94,290.44 L405.25,290.67 L406.55,290.90 L407.86,291.11 L409.16,291.32 L410.47,291.51 L411.77,291.70 L413.08,291.88 L414.38,292.05 L415.69,292.21 L417.00,292.37 L418.30,292.52 L419.61,292.66 L420.91,292.80 L422.21,292.93 L423.52,293.05 L424.82,293.17 L426.13,293.28 L427.43,293.39 L428.74,293.50 L430.04,293.60 L431.35,293.69 L432.65,293.78 L433.96,293.87 L435.26,293.95 L436.57,294.03 L437.88,294.10 L439.18,294.17 L440.49,294.24 L441.79,294.31 L443.09,294.37 L444.40,294.43"/>
</g>
<path d="M340.00,212.50 V230.00 M337.80,212.50 H342.20 M337.80,230.00 H342.20" stroke="#000" stroke-width="1.5" fill="none"/>
<rect x="338.5" y="213" width="3" height="17" fill="#000"/>
<path d="M340.00,250.80 V254.90 M337.80,250.80 H342.20 M337.80,254.90 H342.20" stroke="#000" stroke-width="1.7" fill="none"/>
<circle cx="340.00" cy="252.90" r="1.60" fill="#000"/>
<path d="M359.60,214.40 V231.90 M357.50,214.40 H361.70 M357.50,231.90 H361.70" stroke="#000" stroke-width="1.4" fill="none"/>
<circle cx="359.60" cy="221.00" r="1.60" fill="#000"/>
<circle cx="359.60" cy="227.00" r="1.60" fill="#000"/>
<path d="M359.60,268.50 V272.50 M357.60,268.50 H361.60 M357.60,272.50 H361.60" stroke="#000" stroke-width="1.4" fill="none"/>
<path d="M359.60,272.64 L361.64,268.90 L357.56,268.90Z" fill="#000"/>
<path d="M371.25,210.25 V247.75 M369.05,210.25 H373.45 M369.05,247.75 H373.45" stroke="#000" stroke-width="1.4" fill="none"/>
<circle cx="371.25" cy="216.00" r="1.60" fill="#000"/>
<circle cx="371.25" cy="223.00" r="1.70" fill="#000"/>
<path d="M371.25,244.96 L373.29,248.70 L369.21,248.70Z" fill="#000"/>
<path d="M371.25,273.50 V287.00 M369.05,273.50 H373.45 M369.05,287.00 H373.45" stroke="#000" stroke-width="1.5" fill="none"/>
<path d="M379.10,213.75 V228.75 M377.00,213.75 H381.20 M377.00,228.75 H381.20" stroke="#000" stroke-width="1.4" fill="none"/>
<circle cx="379.10" cy="221.00" r="1.80" fill="#000"/>
<circle cx="379.10" cy="226.00" r="1.60" fill="#000"/>
<path d="M379.10,280.20 L380.90,283.50 L377.30,283.50Z" fill="#000"/>
<path d="M410.00,208.00 V215.00 M407.90,208.00 H412.10 M407.90,215.00 H412.10" stroke="#000" stroke-width="1.4" fill="none"/>
<rect x="408.40" y="209.90" width="3.20" height="3.20" fill="#000"/>
<circle cx="410.00" cy="218.80" r="1.30" fill="#000"/>
<circle cx="410.00" cy="222.50" r="1.30" fill="#000"/>
<path d="M410.00,287.58 L411.92,291.10 L408.08,291.10Z" fill="#000"/>
<rect x="422.80" y="205.30" width="3.20" height="3.20" fill="#000"/>
<path d="M424.40,289.40 V297.75 M422.30,289.40 H426.50 M422.30,297.75 H426.50" stroke="#000" stroke-width="1.5" fill="none"/>
<circle cx="443.75" cy="199.75" r="2.10" fill="#000"/>
<path d="M443.75,216.90 V223.10 M441.65,216.90 H445.85 M441.65,223.10 H445.85" stroke="#000" stroke-width="1.5" fill="none"/>
<circle cx="443.75" cy="220.00" r="1.60" fill="#000"/>
<rect x="469" y="201.5" width="49.5" height="40" fill="none" stroke="#333" stroke-width="1"/>
<path d="M475.7,209.8 H483.7" stroke="#000" stroke-width="2"/>
<path d="M479.70,208.72 L480.78,210.70 L478.62,210.70Z" fill="#000"/>
<text x="488.3" y="211.70000000000002" font-size="8.2" fill="#111" stroke="#111" stroke-width="0.12">Hut78</text>
<path d="M475.7,218.5 H483.7" stroke="#000" stroke-width="2"/>
<rect x="478.80" y="217.60" width="1.80" height="1.80" fill="#000"/>
<text x="488.3" y="220.4" font-size="8.2" fill="#111" stroke="#111" stroke-width="0.12">SeAx</text>
<path d="M475.7,227.3 H483.7" stroke="#000" stroke-width="2"/>
<path d="M479.70,228.38 L480.78,226.40 L478.62,226.40Z" fill="#000"/>
<text x="488.3" y="229.20000000000002" font-size="8.2" fill="#111" stroke="#111" stroke-width="0.12">MyLa</text>
<path d="M475.7,236.2 H483.7" stroke="#000" stroke-width="2"/>
<circle cx="479.70" cy="236.20" r="1.90" fill="#000"/>
<text x="488.3" y="238.1" font-size="8.2" fill="#111" stroke="#111" stroke-width="0.12">HH</text>
</svg></body></html>
